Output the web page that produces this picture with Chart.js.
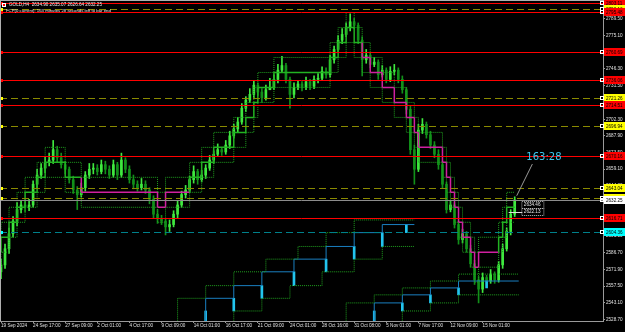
<!DOCTYPE html>
<html>
<head>
<meta charset="utf-8">
<script src="https://cdn.jsdelivr.net/npm/chart.js@4.4.1/dist/chart.umd.min.js"></script>
<style>
  html, body { margin: 0; padding: 0; background: #000; }
</style>
</head>
<body>
<canvas id="chart" width="625" height="332"></canvas>
<script>
// 8h candles, one label every 8 candles
const timeLabels = ["19 Sep 2024", "24 Sep 17:00", "27 Sep 09:00", "2 Oct 01:00", "4 Oct 17:00", "9 Oct 09:00",
  "14 Oct 01:00", "16 Oct 17:00", "21 Oct 09:00", "24 Oct 01:00", "28 Oct 16:00", "31 Oct 08:00",
  "5 Nov 01:00", "7 Nov 17:00", "12 Nov 09:00", "15 Nov 01:00"];

const opens = [
  2570, 2576, 2590, 2603, 2614, 2624, 2628, 2626, 2628, 2646,
  2654, 2660, 2665, 2667, 2676, 2669, 2663, 2659, 2650, 2641,
  2637, 2643, 2654, 2659, 2660, 2657, 2663, 2659, 2654, 2663,
  2654, 2667, 2659, 2650, 2646, 2643, 2646, 2641, 2633, 2620,
  2616, 2614, 2609, 2611, 2620, 2628, 2637, 2641, 2650, 2657,
  2650, 2654, 2660, 2667, 2672, 2676, 2674, 2680, 2688, 2694,
  2700, 2712, 2719, 2724, 2732, 2726, 2721, 2728, 2730, 2737,
  2745, 2749, 2737, 2724, 2730, 2733, 2730, 2735, 2731, 2737,
  2738, 2744, 2741, 2754, 2763, 2771, 2776, 2782, 2787, 2784,
  2771, 2754, 2758, 2750, 2752, 2741, 2745, 2737, 2744, 2745,
  2737, 2728, 2711, 2676, 2659, 2693, 2698, 2689, 2680, 2672,
  2663, 2646, 2624, 2628, 2611, 2598, 2603, 2590, 2577, 2563,
  2555, 2565, 2562, 2568, 2563, 2576, 2590, 2605, 2620];
const highs = [
  2581, 2594, 2608, 2618, 2630, 2632, 2631, 2633, 2649, 2659,
  2664, 2670, 2673, 2684, 2679, 2673, 2666, 2661, 2653, 2644,
  2647, 2657, 2664, 2664, 2663, 2667, 2666, 2662, 2667, 2665,
  2673, 2669, 2662, 2654, 2649, 2651, 2649, 2643, 2636, 2624,
  2619, 2616, 2615, 2623, 2632, 2640, 2645, 2653, 2662, 2659,
  2658, 2663, 2671, 2675, 2681, 2678, 2684, 2692, 2698, 2704,
  2716, 2722, 2729, 2736, 2734, 2729, 2732, 2738, 2741, 2750,
  2757, 2751, 2739, 2734, 2736, 2735, 2739, 2737, 2740, 2742,
  2748, 2747, 2758, 2766, 2775, 2781, 2786, 2794, 2790, 2786,
  2774, 2763, 2760, 2756, 2754, 2749, 2747, 2748, 2750, 2747,
  2740, 2730, 2714, 2680, 2698, 2703, 2700, 2692, 2683, 2676,
  2666, 2648, 2632, 2630, 2614, 2607, 2605, 2593, 2580, 2566,
  2569, 2567, 2572, 2570, 2579, 2594, 2608, 2624, 2635.07];
const lows = [
  2564, 2573, 2586, 2600, 2610, 2621, 2622, 2623, 2626, 2643,
  2651, 2656, 2662, 2664, 2665, 2660, 2655, 2647, 2638, 2624,
  2635, 2640, 2651, 2655, 2654, 2655, 2655, 2651, 2652, 2650,
  2652, 2656, 2647, 2642, 2640, 2641, 2638, 2629, 2617, 2612,
  2611, 2602, 2605, 2609, 2617, 2626, 2634, 2639, 2647, 2646,
  2648, 2651, 2658, 2664, 2670, 2671, 2672, 2677, 2686, 2691,
  2698, 2709, 2717, 2721, 2723, 2717, 2719, 2728, 2728, 2734,
  2743, 2734, 2712, 2721, 2728, 2727, 2728, 2728, 2729, 2734,
  2736, 2738, 2739, 2751, 2761, 2768, 2774, 2779, 2781, 2768,
  2740, 2751, 2747, 2748, 2737, 2739, 2734, 2735, 2741, 2734,
  2725, 2707, 2672, 2646, 2657, 2690, 2686, 2677, 2669, 2659,
  2643, 2621, 2622, 2608, 2594, 2595, 2587, 2574, 2559, 2543,
  2552, 2558, 2560, 2560, 2561, 2573, 2588, 2602, 2618];
const closes = [
  2576, 2590, 2603, 2614, 2624, 2628, 2626, 2628, 2646, 2654,
  2660, 2665, 2667, 2676, 2669, 2663, 2659, 2650, 2641, 2637,
  2643, 2654, 2659, 2660, 2657, 2663, 2659, 2654, 2663, 2654,
  2667, 2659, 2650, 2646, 2643, 2646, 2641, 2633, 2620, 2616,
  2614, 2609, 2611, 2620, 2628, 2637, 2641, 2650, 2657, 2650,
  2654, 2660, 2667, 2672, 2676, 2674, 2680, 2688, 2694, 2700,
  2712, 2719, 2724, 2732, 2726, 2721, 2728, 2730, 2737, 2745,
  2749, 2737, 2724, 2730, 2733, 2730, 2735, 2731, 2737, 2738,
  2744, 2741, 2754, 2763, 2771, 2776, 2782, 2787, 2784, 2771,
  2754, 2758, 2750, 2752, 2741, 2745, 2737, 2744, 2745, 2737,
  2728, 2711, 2676, 2659, 2693, 2698, 2689, 2680, 2672, 2663,
  2646, 2624, 2628, 2611, 2598, 2603, 2590, 2577, 2563, 2555,
  2565, 2562, 2568, 2563, 2576, 2590, 2605, 2620, 2632.25];

// step indicator: [candle index, price]
const trendSteps = [[0, 2587], [2, 2600], [4, 2613], [6, 2626], [9, 2639], [11, 2652], [16, 2665], [20, 2652],
  [39, 2639], [41, 2626], [47, 2639], [50, 2652], [53, 2665], [58, 2678], [61, 2691], [63, 2704], [64, 2717],
  [68, 2730], [82, 2743], [84, 2756], [86, 2769], [88, 2782], [90, 2769], [92, 2756], [95, 2743], [98, 2730],
  [101, 2717], [103, 2704], [104, 2691], [110, 2678], [111, 2665], [112, 2652], [113, 2639], [114, 2626],
  [115, 2613], [117, 2600], [118, 2587], [119, 2574], [124, 2587], [125, 2600], [126, 2613], [127, 2626], [128, 2626]];
const upperSteps = [[0, 2600], [2, 2613], [4, 2626], [6, 2639], [9, 2652], [11, 2665], [16, 2678], [20, 2665],
  [39, 2652], [41, 2639], [47, 2652], [50, 2665], [53, 2678], [58, 2691], [61, 2704], [63, 2717], [64, 2730],
  [68, 2743], [82, 2756], [84, 2769], [86, 2782], [88, 2795], [90, 2782], [92, 2769], [95, 2756], [98, 2743],
  [101, 2730], [103, 2717], [104, 2704], [110, 2691], [111, 2678], [112, 2665], [113, 2652], [114, 2639],
  [115, 2626], [117, 2613], [118, 2600], [119, 2587], [124, 2600], [125, 2613], [126, 2626], [127, 2639], [128, 2639]];
const lowerSteps = [[0, 2574], [2, 2587], [4, 2600], [6, 2613], [9, 2626], [11, 2639], [16, 2652], [20, 2639],
  [39, 2626], [41, 2613], [47, 2626], [50, 2639], [53, 2652], [58, 2665], [61, 2678], [63, 2691], [64, 2704],
  [68, 2717], [82, 2730], [84, 2743], [86, 2756], [88, 2769], [90, 2756], [92, 2743], [95, 2730], [98, 2717],
  [101, 2704], [103, 2691], [104, 2678], [110, 2665], [111, 2652], [112, 2639], [113, 2626], [114, 2613],
  [115, 2600], [117, 2587], [118, 2574], [119, 2561], [124, 2574], [125, 2587], [126, 2600], [127, 2613], [128, 2613]];

// time staircases near the bottom, with their dotted bands
const stairA = [[51, 2527], [51, 2536], [58, 2547], [65, 2558], [73, 2570], [81, 2581], [88, 2592], [95, 2604], [101, 2611], [103, 2611]];
const stairAHigh = [[44, 2527], [44, 2536], [51, 2547], [58, 2558], [66, 2570], [74, 2581], [81, 2592], [88, 2604], [94, 2615], [103, 2615]];
const stairALow = [[58, 2527], [65, 2536], [72, 2547], [80, 2558], [88, 2570], [95, 2581], [101, 2592], [103, 2592]];
const stairB = [[93, 2527], [93, 2536], [100, 2543], [107, 2550], [114, 2556], [121, 2562], [129, 2562]];
const stairBHigh = [[86, 2527], [86, 2536], [93, 2543], [100, 2550], [107, 2556], [114, 2562], [121, 2568], [129, 2568]];
const stairBLow = [[100, 2527], [107, 2536], [114, 2543], [121, 2550], [129, 2550]];

const priceTicks = [2789.50, 2775.10, 2760.70, 2746.30, 2731.50, 2717.10, 2702.30, 2687.90, 2673.50, 2659.10,
  2644.30, 2629.90, 2615.50, 2601.10, 2586.70, 2571.90, 2557.50, 2543.10, 2528.70];

const levelPrices = [2803.11, 2798.13, 2795.48, 2760.69, 2736.06, 2721.26, 2714.51, 2696.94, 2670.16, 2643.04, 2634.37, 2616.71, 2604.36];
const levelKinds = ["major", "minor", "major", "major", "major", "minor", "major", "minor", "major", "minor", "minor", "major", "pivot"];
const bidPrice = 2632.25;
const markPrices = [2634.46, 2622.13];
const barInfo = "GOLD,H4  2634.90 2635.07 2626.64 2632.25";
const timerInfo = "FCP(0 current): 163 minutes 28 seconds left to bar end";
const timerText = "163:28";

const kindStyle = {
  major: { line: "#ff0000", box: "#ff0000", dash: [] },
  minor: { line: "#8a8a00", box: "#ffff00", dash: [7, 4] },
  pivot: { line: "#00808a", box: "#00ffff", dash: [7, 4] }
};
const tinyFont = "4.6px 'Liberation Sans'";

const candleData = closes.map((c, i) => ({ x: i, y: [opens[i], c] }));
const wickData = closes.map((c, i) => ({ x: i, y: [lows[i], highs[i]] }));
const candleColor = (i) => closes[i] >= opens[i] ? "#3fe83f" : "#12901a";
const toPts = (steps) => steps.map(([i, p]) => ({ x: i, y: p }));
const risers = (steps) => steps.slice(1).map(([i, p], k) => ({ x: i, y: [steps[k][1], p] })).filter((d) => d.y[0] !== d.y[1]);

const dotted = (steps) => ({ type: "line", data: toPts(steps), stepped: "after", borderColor: "#1f9f1f", borderWidth: 1, borderDash: [1, 1], pointRadius: 0 });
const stairLine = (steps) => ({ type: "line", data: toPts(steps), stepped: "after", borderColor: "#1a7fc0", borderWidth: 1, pointRadius: 0 });
const stairRise = (steps) => ({ data: risers(steps), barThickness: 2, grouped: false, backgroundColor: "#22c4ee" });

const overlay = {
  id: "overlay",
  afterDatasetsDraw(chart) {
    const { ctx, chartArea: a, scales: { x, y } } = chart;
    ctx.save();
    // level lines
    levelPrices.forEach((p, k) => {
      const st = kindStyle[levelKinds[k]];
      const py = Math.round(y.getPixelForValue(p)) + 0.5;
      ctx.strokeStyle = st.line;
      ctx.lineWidth = 1;
      ctx.setLineDash(st.dash);
      ctx.beginPath(); ctx.moveTo(a.left, py); ctx.lineTo(a.right, py); ctx.stroke();
      ctx.setLineDash([]);
      ctx.fillStyle = st.box;
      ctx.fillRect(a.left, py - 1.5, 3, 3);
    });
    // bid line
    const by = Math.round(y.getPixelForValue(bidPrice)) + 0.5;
    ctx.strokeStyle = "#8c8c8c";
    ctx.beginPath(); ctx.moveTo(a.left, by); ctx.lineTo(a.right, by); ctx.stroke();

    // small price marks next to the last candle
    ctx.font = tinyFont;
    ctx.textBaseline = "middle";
    const mx = x.getPixelForValue(closes.length + 0.9);
    markPrices.forEach((p, k) => {
      const py = Math.round(y.getPixelForValue(p)) + (k === 0 ? 7 : 0);
      ctx.strokeStyle = "#bbbbbb";
      ctx.setLineDash([1, 1]);
      ctx.strokeRect(mx - 0.5, py - 3.5, 22, 7);
      ctx.setLineDash([]);
      ctx.fillStyle = "#e6e6e6";
      ctx.fillText(p.toFixed(2), mx + 1.5, py);
    });
    ctx.strokeStyle = "#dddddd";
    const wy = Math.round(y.getPixelForValue(markPrices[1])) + 0.5;
    ctx.beginPath(); ctx.moveTo(x.getPixelForValue(closes.length - 2.5), wy); ctx.lineTo(mx, wy); ctx.stroke();

    // timer line + text near last candle
    const lx = x.getPixelForValue(closes.length - 0.5);
    const ly = y.getPixelForValue(2636);
    const tx = x.getPixelForValue(closes.length + 1.9);
    const ty = y.getPixelForValue(2669.6);
    ctx.strokeStyle = "#9a9a9a";
    ctx.beginPath(); ctx.moveTo(lx, ly); ctx.lineTo(x.getPixelForValue(closes.length + 3.4), ty + 7); ctx.stroke();
    ctx.fillStyle = "#3cc8f0";
    ctx.font = "10px 'DejaVu Sans'";
    ctx.fillText(timerText, tx, ty);

    // top info text
    ctx.fillStyle = "#e8e8e8";
    ctx.font = tinyFont;
    ctx.fillText(barInfo, a.left + 9, 5);
    ctx.font = "4.3px 'Liberation Sans'";
    ctx.fillText(timerInfo, a.left + 6, 11);
    ctx.fillStyle = "#fff";
    ctx.fillRect(a.left + 2, 3, 4, 4);
    ctx.fillStyle = "#f00";
    ctx.fillRect(a.left + 3, 4, 2, 2);

    // frame
    ctx.fillStyle = "#b0b0b0";
    ctx.fillRect(0, 0, chart.width, 1);
    ctx.fillRect(0, 0, 1, a.bottom);

    // right-side price boxes
    ctx.font = tinyFont;
    const boxes = levelPrices.map((p, k) => [p, kindStyle[levelKinds[k]].box]);
    boxes.push([bidPrice, "#ffffff"]);
    boxes.forEach(([p, col]) => {
      const py = Math.round(y.getPixelForValue(p));
      ctx.fillStyle = col;
      ctx.fillRect(a.right + 1, py - 4, 22, 8);
      ctx.strokeStyle = "#fff";
      ctx.strokeRect(a.right - 2.5, py - 1.5, 3, 3);
      ctx.fillStyle = "#000";
      ctx.fillText(p.toFixed(2), a.right + 3, py + 0.5);
    });
    ctx.restore();
  }
};

new Chart(document.getElementById("chart"), {
  type: "bar",
  data: {
    datasets: [
      dotted(upperSteps),
      dotted(lowerSteps),
      dotted(stairAHigh),
      dotted(stairALow),
      dotted(stairBHigh),
      dotted(stairBLow),
      stairLine(stairA),
      stairLine(stairB),
      stairRise(stairA),
      stairRise(stairB),
      {
        type: "line", data: toPts(trendSteps), stepped: "after", borderWidth: 1.5, pointRadius: 0,
        borderColor: "#22b222",
        segment: {
          borderColor: (c) => {
            const i = c.p0DataIndex;
            return i > 0 && trendSteps[i][1] < trendSteps[i - 1][1] ? "#d020a0" : "#22b222";
          }
        }
      },
      { data: wickData, barThickness: 1, grouped: false, backgroundColor: wickData.map((_, i) => candleColor(i)) },
      { data: candleData, barThickness: 2, grouped: false, minBarLength: 1, backgroundColor: candleData.map((_, i) => candleColor(i)) }
    ]
  },
  options: {
    responsive: false,
    animation: false,
    events: [],
    layout: { padding: 0 },
    plugins: { legend: { display: false }, tooltip: { enabled: false } },
    scales: {
      x: {
        type: "linear",
        offset: false,
        min: -0.25,
        max: 150,
        grid: { drawOnChartArea: false, drawTicks: true, tickLength: 2, color: "#9a9a9a", offset: false },
        border: { display: true, color: "#9a9a9a" },
        afterBuildTicks: (s) => { s.ticks = timeLabels.map((_, k) => ({ value: k * 8 })); },
        afterFit: (s) => { s.height = 11; s.paddingLeft = 0; s.paddingRight = 0; },
        ticks: {
          autoSkip: false, maxRotation: 0, align: "start", padding: 0,
          color: "#e0e0e0", font: { family: "Liberation Sans", size: 4.6 },
          callback: (v) => timeLabels[Math.round(v / 8)]
        }
      },
      y: {
        position: "right",
        min: 2527.3,
        max: 2805.9,
        grid: { drawOnChartArea: false, drawTicks: true, tickLength: 2, color: "#9a9a9a" },
        border: { display: true, color: "#9a9a9a" },
        afterBuildTicks: (s) => { s.ticks = priceTicks.map((v) => ({ value: v })); },
        afterFit: (s) => { s.width = 22; s.paddingTop = 0; s.paddingBottom = 0; },
        ticks: {
          padding: 1, color: "#e0e0e0", font: { family: "Liberation Sans", size: 4.6 },
          callback: (v) => v.toFixed(2)
        }
      }
    }
  },
  plugins: [overlay]
});
</script>
</body>
</html>
